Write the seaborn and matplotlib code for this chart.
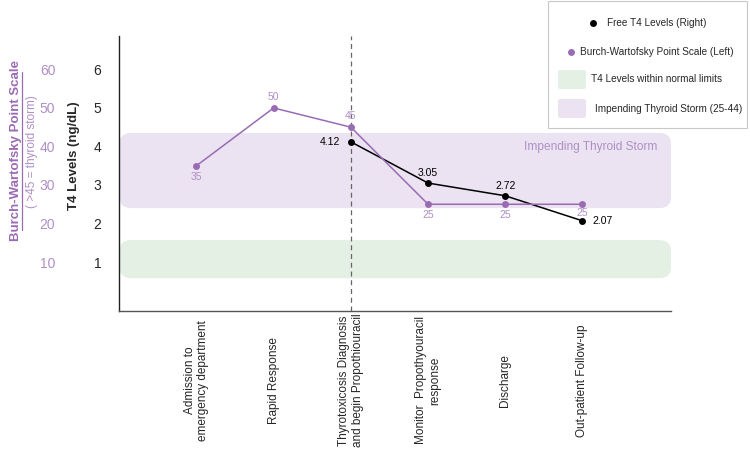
import matplotlib
matplotlib.use("Agg")
import matplotlib.pyplot as plt
import matplotlib.patches as mpatches
from matplotlib.lines import Line2D
import seaborn as sns
import pandas as pd

# --- data ---
stages = ["Admission to\nemergency department", "Rapid Response",
          "Thyrotoxicosis Diagnosis\nand begin Propothiouracil",
          "Monitor  Propothyouracil\nresponse", "Discharge",
          "Out-patient Follow-up"]
bw_score = [35, 50, 45, 25, 25, 25]
t4_stages = [2, 3, 4, 5]
t4_levels = [4.12, 3.05, 2.72, 2.07]
storm_band = [24.0, 43.5]      # Burch-Wartofsky points
normal_band = [0.58, 1.57]     # T4 ng/dL
t4_ticks = [1, 2, 3, 4, 5, 6]
bw_ticks = [10, 20, 30, 40, 50, 60]

PURPLE = "#9a6bb3"
LIGHT_PURPLE = "#b08fc6"
STORM_FILL = "#ebe3f1"
NORMAL_FILL = "#e4f0e4"

sns.set_style("white")
plt.rcParams["font.family"] = ["Liberation Sans", "DejaVu Sans"]

fig = plt.figure(figsize=(7.5, 4.57), dpi=100)
ax = fig.add_axes([0.159, 0.3195, 0.736, 0.602])
ax2 = ax.twinx()

ylo, yhi = -0.27, 6.87
xlo, xhi = -1.0, 6.15
ax.set_ylim(ylo, yhi)
ax2.set_ylim(ylo * 10, yhi * 10)
ax.set_xlim(xlo, xhi)

# bands
storm = mpatches.FancyBboxPatch((xlo, storm_band[0] / 10), xhi - xlo,
                                (storm_band[1] - storm_band[0]) / 10,
                                boxstyle="round,pad=0,rounding_size=0.15",
                                mutation_aspect=2.0, fc=STORM_FILL, ec="none",
                                zorder=0)
normal = mpatches.FancyBboxPatch((xlo, normal_band[0]), xhi - xlo,
                                 normal_band[1] - normal_band[0],
                                 boxstyle="round,pad=0,rounding_size=0.15",
                                 mutation_aspect=2.0, fc=NORMAL_FILL, ec="none",
                                 zorder=0)
ax.add_patch(storm)
ax.add_patch(normal)
ax.text(5.97, 3.99, "Impending Thyroid Storm", color=LIGHT_PURPLE,
        fontsize=8.6, ha="right", va="center")

ax.axvline(2, color="#666666", ls=(0, (4, 3)), lw=0.9, zorder=1)

bw_df = pd.DataFrame({"x": range(len(stages)), "score": bw_score})
t4_df = pd.DataFrame({"x": t4_stages, "t4": t4_levels})

sns.lineplot(data=bw_df, x="x", y="score", ax=ax2, color=PURPLE, lw=1.1,
             marker="o", markersize=5, markeredgewidth=0, zorder=3)
sns.lineplot(data=t4_df, x="x", y="t4", ax=ax, color="black", lw=1.1,
             marker="o", markersize=5, markeredgewidth=0, zorder=4)

# point labels
bw_off = [-8, 8, 8, -8, -8, -6.5]
for i, v in enumerate(bw_score):
    ax2.annotate(str(v), (i, v), xytext=(0, bw_off[i]),
                 textcoords="offset points", ha="center", va="center",
                 color=LIGHT_PURPLE, fontsize=7.5, zorder=5)
t4_off = [(-8, 0, "right"), (0, 7, "center"), (0, 7, "center"),
          (7, 0, "left")]
for x, v, (dx, dy, ha) in zip(t4_stages, t4_levels, t4_off):
    ax.annotate(f"{v:.2f}", (x, v), xytext=(dx, dy),
                textcoords="offset points", ha=ha, va="center",
                color="black", fontsize=7.5)

# axes styling
for a in (ax, ax2):
    a.set_xlabel("")
    a.set_ylabel("")
for s in ["top", "right"]:
    ax.spines[s].set_visible(False)
for s in ax2.spines.values():
    s.set_visible(False)
ax.spines["left"].set_color("#222222")
ax.spines["bottom"].set_color("#555555")
ax.spines["left"].set_linewidth(1.0)
ax.spines["bottom"].set_linewidth(1.0)

ax.set_yticks(t4_ticks)
ax.set_yticklabels([str(t) for t in t4_ticks], fontsize=10)
ax.tick_params(axis="y", length=0, pad=13)
ax2.yaxis.tick_left()
ax2.set_yticks(bw_ticks)
ax2.set_yticklabels([str(t) for t in bw_ticks], fontsize=10,
                    color=LIGHT_PURPLE)
ax2.tick_params(axis="y", length=0, pad=46)

ax.set_xticks(range(len(stages)))
ax.set_xticklabels(stages, rotation=90, fontsize=8.5, va="center",
                   ha="center", multialignment="center")
ax.tick_params(axis="x", length=0, pad=50)

fig.text(0.099, 0.66, "T4 Levels (ng/dL)", rotation=90, ha="center",
         va="center", fontsize=9.5, fontweight="bold")
fig.text(0.021, 0.67, "Burch-Wartofsky Point Scale", rotation=90,
         ha="center", va="center", fontsize=9.5, fontweight="bold",
         color=PURPLE)
fig.add_artist(Line2D([0.029, 0.029], [0.497, 0.842], color=PURPLE, lw=0.9,
                      transform=fig.transFigure))
fig.text(0.042, 0.668, "( >45 = thyroid storm)", rotation=90, ha="center",
         va="center", fontsize=8.5, color=LIGHT_PURPLE)

# legend box, drawn by hand so entries sit like the reference
W, H = 750, 457
def fx(px):
    return px / W
def fy(py):
    return 1 - py / H

fig.add_artist(mpatches.Rectangle((fx(548), fy(128)), fx(199), 127 / H,
                                  transform=fig.transFigure, fc="white",
                                  ec="#c8c8c8", lw=0.8))
fig.add_artist(Line2D([fx(593)], [fy(23)], marker="o", color="black",
                      markersize=5, markeredgewidth=0,
                      transform=fig.transFigure))
fig.text(fx(607), fy(23), "Free T4 Levels (Right)", fontsize=7.2,
         va="center")
fig.add_artist(Line2D([fx(571)], [fy(52)], marker="o", color=PURPLE,
                      markersize=5, markeredgewidth=0,
                      transform=fig.transFigure))
fig.text(fx(580), fy(52), "Burch-Wartofsky Point Scale (Left)", fontsize=7.2,
         va="center")
for top, fill, label, tx in [(70, NORMAL_FILL, "T4 Levels within normal limits", 591),
                             (99, STORM_FILL, "Impending Thyroid Storm (25-44)", 595)]:
    fig.add_artist(mpatches.FancyBboxPatch(
        (fx(558), fy(top + 19)), fx(28), 19 / H, transform=fig.transFigure,
        boxstyle="round,pad=0,rounding_size=0.004", fc=fill, ec="none"))
    fig.text(fx(tx), fy(top + 9.5), label, fontsize=7.2, va="center")

fig.savefig("out.png", dpi=100)
